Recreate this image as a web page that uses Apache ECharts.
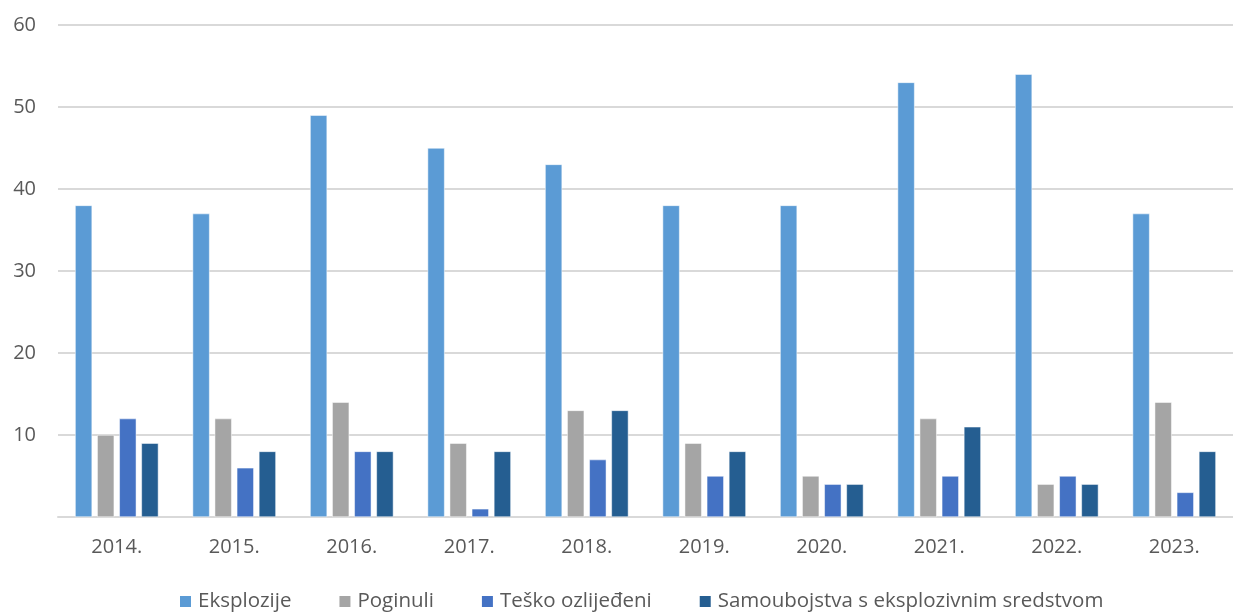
<!DOCTYPE html>
<html>
<head>
<meta charset="utf-8">
<script src="https://cdn.jsdelivr.net/npm/echarts@6/dist/echarts.min.js"></script>
<style>
  html, body { margin: 0; padding: 0; background: #fff; }
  #chart { width: 1233px; height: 613px; }
</style>
</head>
<body>
<div id="chart"></div>
<script>
  // data
  var years = ['2014.', '2015.', '2016.', '2017.', '2018.', '2019.', '2020.', '2021.', '2022.', '2023.'];
  var eksplozije = [38, 37, 49, 45, 43, 38, 38, 53, 54, 37];
  var poginuli = [10, 12, 14, 9, 13, 9, 5, 12, 4, 14];
  var teskoOzlijedeni = [12, 6, 8, 1, 7, 5, 4, 5, 5, 3];
  var samoubojstva = [9, 8, 8, 8, 13, 8, 4, 11, 4, 8];

  var font = '"Open Sans", sans-serif';
  var chart = echarts.init(document.getElementById('chart'));

  function bar(name, data, color) {
    return {
      name: name,
      type: 'bar',
      data: data,
      barWidth: 17,
      barGap: '30%',
      itemStyle: { color: color, borderColor: '#ffffff', borderWidth: 0.5 },
      emphasis: { disabled: true }
    };
  }

  chart.setOption({
    backgroundColor: '#ffffff',
    animation: false,
    textStyle: { fontFamily: font },
    grid: { left: 58, right: 0, top: 25, bottom: 96, containLabel: false },
    legend: {
      bottom: -4,
      left: 173,
      itemWidth: 13,
      itemHeight: 13,
      itemGap: 46,
      icon: 'rect',
      textStyle: { fontSize: 20.5, color: '#595959', fontFamily: font, padding: [0, 0, 0, 1] },
      data: ['Eksplozije', 'Poginuli', 'Teško ozlijeđeni', 'Samoubojstva s eksplozivnim sredstvom']
    },
    xAxis: {
      type: 'category',
      data: years,
      axisLine: { lineStyle: { color: '#d9d9d9', width: 2 } },
      axisTick: { show: false },
      axisLabel: { fontSize: 20, color: '#595959', margin: 20 }
    },
    yAxis: {
      type: 'value',
      min: 0,
      max: 60,
      interval: 10,
      axisLine: { show: false },
      axisTick: { show: false },
      splitLine: { lineStyle: { color: '#d9d9d9', width: 2 } },
      axisLabel: {
        fontSize: 20,
        color: '#595959',
        margin: 22,
        formatter: function (v) { return v === 0 ? '' : v; }
      }
    },
    series: [
      bar('Eksplozije', eksplozije, '#5b9bd5'),
      bar('Poginuli', poginuli, '#a5a5a5'),
      bar('Teško ozlijeđeni', teskoOzlijedeni, '#4472c4'),
      bar('Samoubojstva s eksplozivnim sredstvom', samoubojstva, '#255e91')
    ]
  });
</script>
</body>
</html>
